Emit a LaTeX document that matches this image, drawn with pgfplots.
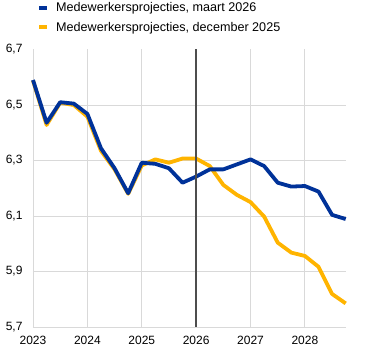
\documentclass[border=0pt]{standalone}
\usepackage{pgfplots}
\pgfplotsset{compat=1.18}
\usepackage{fontspec}
\setmainfont{Liberation Sans}
\definecolor{ecbblue}{HTML}{003299}
\definecolor{ecbyellow}{HTML}{FFB400}
\definecolor{gridgray}{HTML}{D9D9D9}
\definecolor{vline}{HTML}{4D4D4D}
\begin{document}
\begin{tikzpicture}
\begin{axis}[
  scale only axis,
  width=312.7pt, height=277.5pt,
  xmin=2023, xmax=2028.75,
  ymin=5.7, ymax=6.7,
  axis line style={draw=none},
  xtick={2023,2024,2025,2026,2027,2028},
  ytick={5.7,5.9,6.1,6.3,6.5},
  extra y ticks={6.7},
  extra y tick style={grid=none},
  major tick length=0pt,
  grid=major,
  major grid style={gridgray, line width=0.9pt},
  tick label style={font=\fontsize{12}{14}\selectfont, /pgf/number format/assume math mode=true},
  xticklabel style={/pgf/number format/set thousands separator={}, yshift=-6pt},
  yticklabel style={/pgf/number format/use comma, /pgf/number format/fixed, /pgf/number format/fixed zerofill, /pgf/number format/precision=1, xshift=-7pt},
  legend style={at={(0,1)}, anchor=south west, xshift=4pt, yshift=14.5pt, draw=none, fill=none,
    font=\fontsize{12.6}{15}\selectfont, row sep=5pt, inner sep=0pt,
    /tikz/every odd column/.append style={column sep=5pt}},
  legend cell align=left,
  legend image code/.code={\draw[#1, line width=4pt] (0pt,0pt) -- (8pt,0pt);},
  clip=false,
]
\addplot[ecbyellow, line width=3.8pt, line join=round, forget plot] coordinates {
(2023.00,6.588) (2023.25,6.428) (2023.50,6.508) (2023.75,6.500) (2024.00,6.458)
(2024.25,6.335) (2024.50,6.268) (2024.75,6.180) (2025.00,6.282) (2025.25,6.304)
(2025.50,6.292) (2025.75,6.307) (2026.00,6.307) (2026.25,6.280) (2026.50,6.212)
(2026.75,6.176) (2027.00,6.150) (2027.25,6.098) (2027.50,6.004) (2027.75,5.968)
(2028.00,5.956) (2028.25,5.917) (2028.50,5.819) (2028.75,5.785)
};
\addplot[ecbblue, line width=3.8pt, line join=round, forget plot] coordinates {
(2023.00,6.590) (2023.25,6.436) (2023.50,6.510) (2023.75,6.505) (2024.00,6.468)
(2024.25,6.344) (2024.50,6.272) (2024.75,6.182) (2025.00,6.292) (2025.25,6.288)
(2025.50,6.272) (2025.75,6.220) (2026.00,6.242) (2026.25,6.268) (2026.50,6.268)
(2026.75,6.286) (2027.00,6.304) (2027.25,6.280) (2027.50,6.220) (2027.75,6.206)
(2028.00,6.208) (2028.25,6.188) (2028.50,6.104) (2028.75,6.089)
};
\addplot[vline, line width=2pt, forget plot] coordinates {(2026,5.7) (2026,6.7)};
\addlegendimage{ecbblue}
\addlegendentry{Medewerkersprojecties, maart 2026}
\addlegendimage{ecbyellow}
\addlegendentry{Medewerkersprojecties, december 2025}
\end{axis}
\pgfresetboundingbox
\path (current axis.south west) ++(-33pt,-28pt) coordinate (bl);
\path (current axis.north east) ++(26.3pt,49.5pt) coordinate (tr);
\path (bl) rectangle (tr);
\end{tikzpicture}
\end{document}
